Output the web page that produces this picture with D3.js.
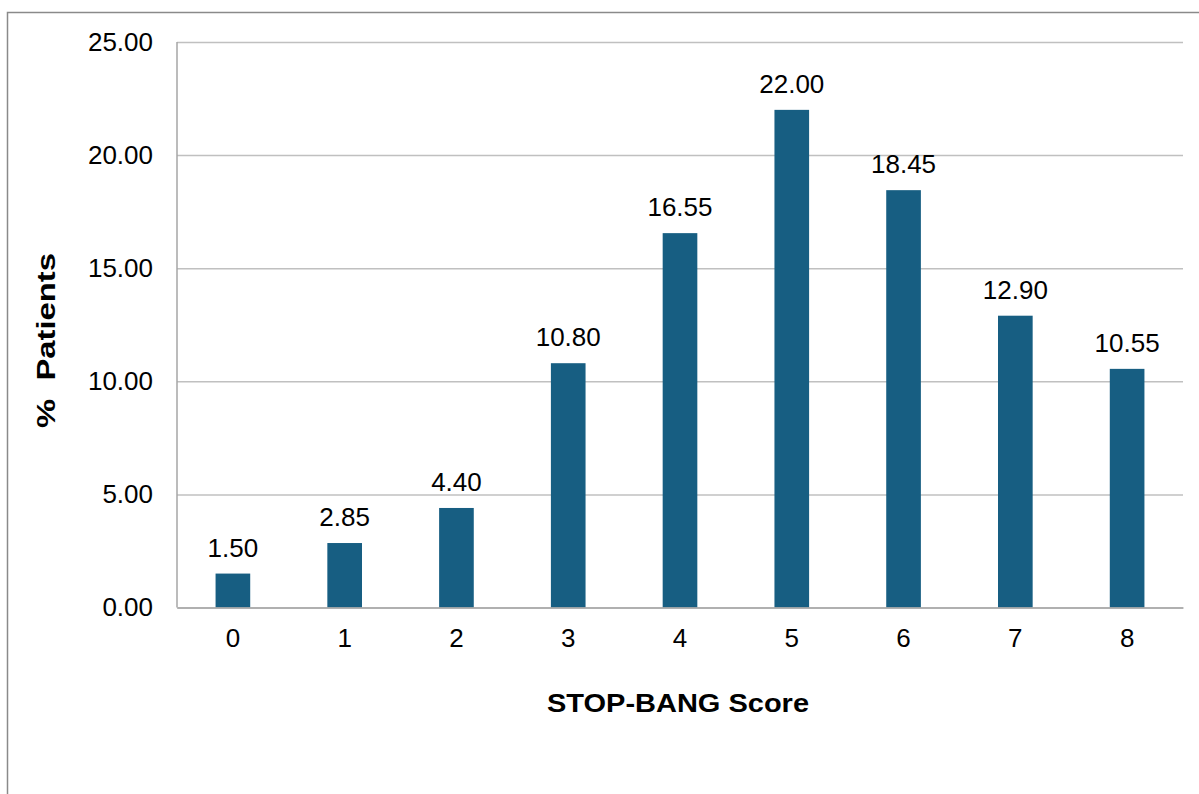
<!DOCTYPE html>
<html>
<head>
<meta charset="utf-8">
<script src="https://cdn.jsdelivr.net/npm/d3@7"></script>
<style>
  html, body { margin: 0; padding: 0; background: #fff; }
  svg { display: block; }
  text { font-family: "Liberation Sans", Arial, sans-serif; fill: #000; }
</style>
</head>
<body>
<svg id="chart" width="1199" height="794"></svg>
<script>
// STOP-BANG score distribution
const scores = ["0", "1", "2", "3", "4", "5", "6", "7", "8"];
const percentPatients = [1.50, 2.85, 4.40, 10.80, 16.55, 22.00, 18.45, 12.90, 10.55];
const yTicks = [0, 5, 10, 15, 20, 25];
const xTitle = "STOP-BANG Score";
const yTitle = "%  Patients";

const svg = d3.select("#chart");
const W = 1199, H = 794;
const plot = { left: 177, right: 1183, top: 42, bottom: 607.5 };
const fontSize = 26;

// outer chart frame (continues past the right/bottom edges)
svg.append("rect")
  .attr("x", 7.5).attr("y", 12.5)
  .attr("width", W + 20).attr("height", H + 20)
  .attr("fill", "none")
  .attr("stroke", "#8a8a8a")
  .attr("stroke-width", 1.5);

const x = d3.scaleBand()
  .domain(scores)
  .range([plot.left, plot.right])
  .paddingInner(0.69)
  .paddingOuter(0.345);

const y = d3.scaleLinear()
  .domain([0, 25])
  .range([plot.bottom, plot.top]);

// horizontal gridlines + y labels
const yAxis = d3.axisLeft(y)
  .tickValues(yTicks)
  .tickSize(-(plot.right - plot.left))
  .tickPadding(24)
  .tickFormat(d3.format(".2f"));

const gy = svg.append("g")
  .attr("transform", `translate(${plot.left},0)`)
  .call(yAxis);
gy.select(".domain").remove();
gy.selectAll(".tick line")
  .attr("stroke", "#c0c0c0")
  .attr("stroke-width", 1.5);
gy.selectAll(".tick text")
  .attr("font-size", fontSize)
  .attr("font-family", "Liberation Sans, Arial, sans-serif")
  .attr("fill", "#000");

// left axis line
svg.append("line")
  .attr("x1", plot.left).attr("x2", plot.left)
  .attr("y1", plot.top).attr("y2", plot.bottom)
  .attr("stroke", "#a6a6a6").attr("stroke-width", 1.5);

// bars
svg.append("g").selectAll("rect")
  .data(percentPatients)
  .join("rect")
  .attr("x", (d, i) => x(scores[i]))
  .attr("width", x.bandwidth())
  .attr("y", d => y(d))
  .attr("height", d => y(0) - y(d))
  .attr("fill", "#175e82");

// value labels
svg.append("g").selectAll("text")
  .data(percentPatients)
  .join("text")
  .attr("x", (d, i) => x(scores[i]) + x.bandwidth() / 2)
  .attr("y", d => y(d) - 17)
  .attr("text-anchor", "middle")
  .attr("font-size", fontSize)
  .text(d => d3.format(".2f")(d));

// x axis
const xAxis = d3.axisBottom(x).tickSize(0).tickPadding(21.5);
const gx = svg.append("g")
  .attr("transform", `translate(0,${plot.bottom})`)
  .call(xAxis);
gx.select(".domain")
  .attr("stroke", "#a6a6a6")
  .attr("stroke-width", 1.5);
gx.selectAll(".tick text")
  .attr("font-size", fontSize)
  .attr("font-family", "Liberation Sans, Arial, sans-serif")
  .attr("fill", "#000");

// axis titles
svg.append("text")
  .attr("x", 547)
  .attr("y", 711.5)
  .attr("font-size", fontSize)
  .attr("font-weight", "bold")
  .attr("textLength", 262)
  .attr("lengthAdjust", "spacingAndGlyphs")
  .text(xTitle);

svg.append("text")
  .attr("transform", `translate(55,428) rotate(-90)`)
  .attr("font-size", fontSize)
  .attr("font-weight", "bold")
  .attr("textLength", 175)
  .attr("lengthAdjust", "spacingAndGlyphs")
  .style("white-space", "pre")
  .text(yTitle);
</script>
</body>
</html>
